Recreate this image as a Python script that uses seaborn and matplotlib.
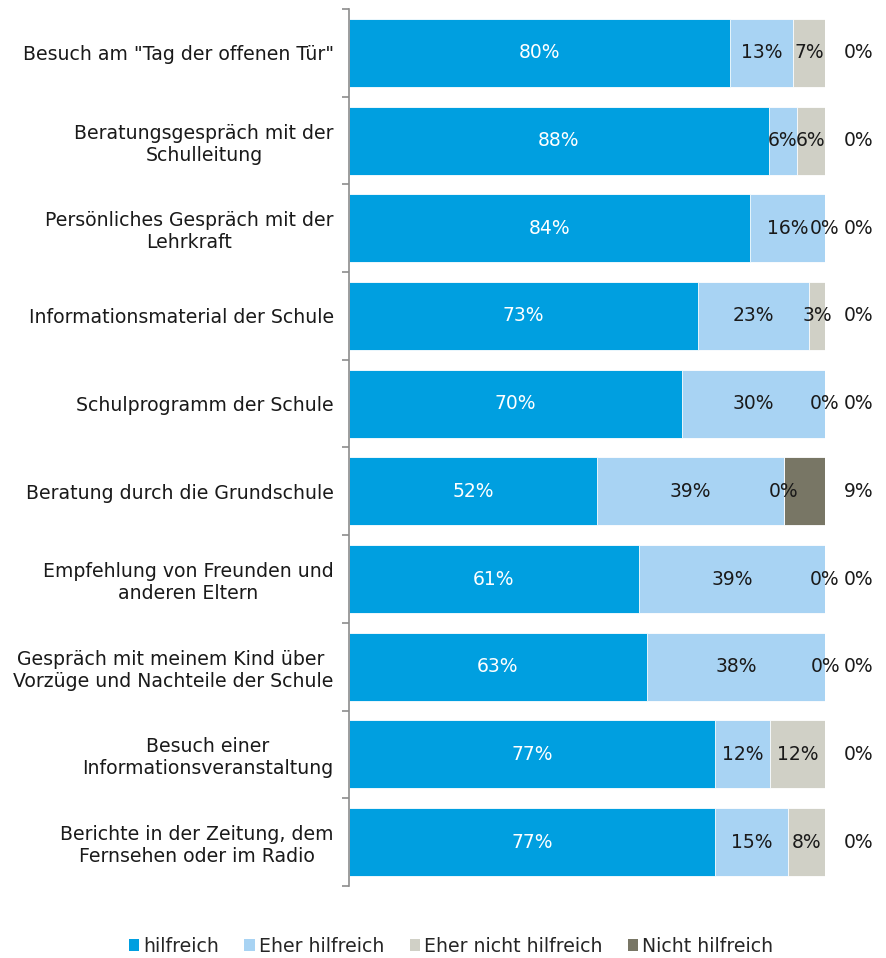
import numpy as np
import pandas as pd
import seaborn as sns
import matplotlib.pyplot as plt
from matplotlib.patches import Patch

sns.set_theme(style="white")
plt.rcParams["font.family"] = ["DejaVu Sans"]

# Categories (top to bottom)
categories = [
    'Besuch am "Tag der offenen Tür"',
    "Beratungsgespräch mit der\nSchulleitung",
    "Persönliches Gespräch mit der\nLehrkraft",
    "Informationsmaterial der Schule",
    "Schulprogramm der Schule",
    "Beratung durch die Grundschule",
    "Empfehlung von Freunden und\nanderen Eltern",
    "Gespräch mit meinem Kind über \nVorzüge und Nachteile der Schule",
    "Besuch einer\nInformationsveranstaltung",
    "Berichte in der Zeitung, dem\nFernsehen oder im Radio",
]

series_names = ["hilfreich", "Eher hilfreich", "Eher nicht hilfreich", "Nicht hilfreich"]

# Shares in percent
hilfreich = [80.0, 88.2, 84.2, 73.3, 70.0, 52.2, 60.9, 62.6, 76.9, 76.9]
eher_hilfreich = [13.3, 5.9, 15.8, 23.3, 30.0, 39.1, 39.1, 37.5, 11.5, 15.4]
eher_nicht = [6.7, 5.9, 0.0, 3.4, 0.0, 0.0, 0.0, 0.0, 11.6, 7.7]
nicht = [0.0, 0.0, 0.0, 0.0, 0.0, 8.7, 0.0, 0.0, 0.0, 0.0]

colors = ["#009fe0", "#a8d3f3", "#d0d0c6", "#787665"]
label_colors = ["white", "#1a1a1a", "#1a1a1a", "#1a1a1a"]

values = np.array([hilfreich, eher_hilfreich, eher_nicht, nicht])
cum = np.cumsum(values, axis=0)

fig = plt.figure(figsize=(8.86, 9.58), dpi=100)
ax = fig.add_axes([349 / 886, 1 - 886 / 958, (825 - 349) / 886, (886 - 9) / 958])

# stacked bars: draw cumulative totals from the outermost layer inwards
for i in range(3, -1, -1):
    df = pd.DataFrame({"cat": categories, "val": cum[i]})
    sns.barplot(data=df, x="val", y="cat", orient="h", color=colors[i],
                saturation=1, width=0.775, edgecolor="white", linewidth=0.6,
                ax=ax)

# data labels (rounded half up, like the source)
for i in range(4):
    for j in range(len(categories)):
        v = values[i, j]
        start = cum[i, j] - v
        if i == 3:
            xpos = 107
        else:
            xpos = start + v / 2
        ax.text(xpos, j, f"{int(v + 0.5)}%", ha="center", va="center",
                color=label_colors[i], fontsize=13.5)

ax.set_xlim(0, 100)
ax.set_ylim(len(categories) - 0.5, -0.5)
ax.set_xlabel("")
ax.set_ylabel("")
ax.set_xticks([])
for s in ["top", "right", "bottom"]:
    ax.spines[s].set_visible(False)
ax.spines["left"].set_color("#8c8c8c")
ax.spines["left"].set_linewidth(1.2)

ax.set_yticks(np.arange(-0.5, len(categories)), minor=True)
ax.tick_params(axis="y", which="minor", length=5, width=1.2, color="#8c8c8c",
               direction="out", left=True)
ax.tick_params(axis="y", which="major", length=0, pad=11)
for lbl in ax.get_yticklabels():
    lbl.set_fontsize(13.6)
    lbl.set_multialignment("center")
    lbl.set_color("#1a1a1a")

handles = [Patch(facecolor=c, edgecolor="none") for c in colors]
fig.legend(handles, series_names, loc="center", bbox_to_anchor=(0.509, 0.0125),
           ncol=4, frameon=False, fontsize=13.6, handlelength=0.55,
           handleheight=0.55, handletextpad=0.2, columnspacing=1.35)

fig.savefig("out.png", dpi=100)
